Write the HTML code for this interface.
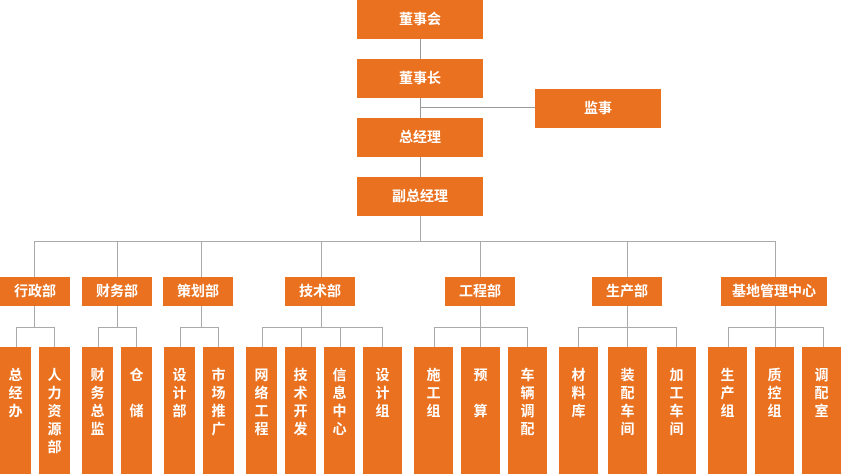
<!DOCTYPE html>
<html><head><meta charset="utf-8"><style>
html,body{margin:0;padding:0;background:#fff;}
body{width:841px;height:474px;position:relative;overflow:hidden;font-family:"Liberation Sans","Noto Sans CJK SC",sans-serif;}
.b{position:absolute;background:#E97120;color:#fff;font-size:14px;font-weight:bold;text-align:center;}
.h{position:absolute;background:#aaa;height:1px;}
.v{position:absolute;background:#aaa;width:1px;}
.t{position:absolute;left:0;right:0;top:19px;line-height:18px;}
</style></head><body>
<!-- top chain -->
<div class="v" style="left:420px;top:39px;height:138px;background:#999"></div>
<div class="h" style="left:420px;top:107px;width:115px;background:#999"></div>
<div class="v" style="left:420px;top:216px;height:25px;"></div>
<div class="b" style="left:357px;top:0;width:126px;height:39px;line-height:39px;">董事会</div>
<div class="b" style="left:357px;top:59px;width:126px;height:39px;line-height:39px;">董事长</div>
<div class="b" style="left:535px;top:89px;width:126px;height:39px;line-height:39px;">监事</div>
<div class="b" style="left:357px;top:118px;width:126px;height:39px;line-height:39px;">总经理</div>
<div class="b" style="left:357px;top:177px;width:126px;height:39px;line-height:39px;">副总经理</div>

<!-- main horizontal -->
<div class="h" style="left:34px;top:241px;width:742px;"></div>
<div class="v" style="left:34px;top:241px;height:36px;"></div>
<div class="v" style="left:117px;top:241px;height:36px;"></div>
<div class="v" style="left:201px;top:241px;height:36px;"></div>
<div class="v" style="left:321px;top:241px;height:36px;"></div>
<div class="v" style="left:480px;top:241px;height:36px;"></div>
<div class="v" style="left:627px;top:241px;height:36px;"></div>
<div class="v" style="left:775px;top:241px;height:36px;"></div>

<!-- second level -->
<div class="b" style="left:0;top:277px;width:70px;height:29px;line-height:29px;">行政部</div>
<div class="b" style="left:82px;top:277px;width:70px;height:29px;line-height:29px;">财务部</div>
<div class="b" style="left:163px;top:277px;width:70px;height:29px;line-height:29px;">策划部</div>
<div class="b" style="left:285px;top:277px;width:70px;height:29px;line-height:29px;">技术部</div>
<div class="b" style="left:445px;top:277px;width:70px;height:29px;line-height:29px;">工程部</div>
<div class="b" style="left:592px;top:277px;width:70px;height:29px;line-height:29px;">生产部</div>
<div class="b" style="left:721px;top:277px;width:106px;height:29px;line-height:29px;">基地管理中心</div>

<!-- sub connectors -->
<div class="v" style="left:34px;top:306px;height:21px;"></div>
<div class="h" style="left:16px;top:327px;width:39px;"></div>
<div class="v" style="left:16px;top:327px;height:20px;"></div>
<div class="v" style="left:54px;top:327px;height:20px;"></div>

<div class="v" style="left:117px;top:306px;height:21px;"></div>
<div class="h" style="left:98px;top:327px;width:39px;"></div>
<div class="v" style="left:98px;top:327px;height:20px;"></div>
<div class="v" style="left:136px;top:327px;height:20px;"></div>

<div class="v" style="left:201px;top:306px;height:21px;"></div>
<div class="h" style="left:180px;top:327px;width:39px;"></div>
<div class="v" style="left:180px;top:327px;height:20px;"></div>
<div class="v" style="left:218px;top:327px;height:20px;"></div>

<div class="v" style="left:321px;top:306px;height:21px;"></div>
<div class="h" style="left:262px;top:327px;width:121px;"></div>
<div class="v" style="left:262px;top:327px;height:20px;"></div>
<div class="v" style="left:301px;top:327px;height:20px;"></div>
<div class="v" style="left:340px;top:327px;height:20px;"></div>
<div class="v" style="left:382px;top:327px;height:20px;"></div>

<div class="v" style="left:480px;top:306px;height:21px;"></div>
<div class="h" style="left:434px;top:327px;width:94px;"></div>
<div class="v" style="left:434px;top:327px;height:20px;"></div>
<div class="v" style="left:480px;top:327px;height:20px;"></div>
<div class="v" style="left:527px;top:327px;height:20px;"></div>

<div class="v" style="left:627px;top:306px;height:21px;"></div>
<div class="h" style="left:578px;top:327px;width:99px;"></div>
<div class="v" style="left:578px;top:327px;height:20px;"></div>
<div class="v" style="left:627px;top:327px;height:20px;"></div>
<div class="v" style="left:676px;top:327px;height:20px;"></div>

<div class="v" style="left:775px;top:306px;height:21px;"></div>
<div class="h" style="left:728px;top:327px;width:96px;"></div>
<div class="v" style="left:728px;top:327px;height:20px;"></div>
<div class="v" style="left:775px;top:327px;height:20px;"></div>
<div class="v" style="left:823px;top:327px;height:20px;"></div>

<!-- bottom boxes -->
<div class="b" style="left:0;top:347px;width:31px;height:127px;"><div class="t">总<br>经<br>办</div></div>
<div class="b" style="left:39px;top:347px;width:31px;height:127px;"><div class="t">人<br>力<br>资<br>源<br>部</div></div>
<div class="b" style="left:82px;top:347px;width:31px;height:127px;"><div class="t">财<br>务<br>总<br>监</div></div>
<div class="b" style="left:121px;top:347px;width:31px;height:127px;"><div class="t">仓<br><br>储</div></div>
<div class="b" style="left:164px;top:347px;width:31px;height:127px;"><div class="t">设<br>计<br>部</div></div>
<div class="b" style="left:203px;top:347px;width:31px;height:127px;"><div class="t">市<br>场<br>推<br>广</div></div>
<div class="b" style="left:246px;top:347px;width:31px;height:127px;"><div class="t">网<br>络<br>工<br>程</div></div>
<div class="b" style="left:285px;top:347px;width:31px;height:127px;"><div class="t">技<br>术<br>开<br>发</div></div>
<div class="b" style="left:324px;top:347px;width:31px;height:127px;"><div class="t">信<br>息<br>中<br>心</div></div>
<div class="b" style="left:363px;top:347px;width:39px;height:127px;"><div class="t">设<br>计<br>组</div></div>
<div class="b" style="left:414px;top:347px;width:39px;height:127px;"><div class="t">施<br>工<br>组</div></div>
<div class="b" style="left:461px;top:347px;width:39px;height:127px;"><div class="t">预<br><br>算</div></div>
<div class="b" style="left:508px;top:347px;width:39px;height:127px;"><div class="t">车<br>辆<br>调<br>配</div></div>
<div class="b" style="left:559px;top:347px;width:39px;height:127px;"><div class="t">材<br>料<br>库</div></div>
<div class="b" style="left:608px;top:347px;width:39px;height:127px;"><div class="t">装<br>配<br>车<br>间</div></div>
<div class="b" style="left:657px;top:347px;width:39px;height:127px;"><div class="t">加<br>工<br>车<br>间</div></div>
<div class="b" style="left:708px;top:347px;width:39px;height:127px;"><div class="t">生<br>产<br>组</div></div>
<div class="b" style="left:755px;top:347px;width:39px;height:127px;"><div class="t">质<br>控<br>组</div></div>
<div class="b" style="left:802px;top:347px;width:39px;height:127px;"><div class="t">调<br>配<br>室</div></div>
</body></html>
